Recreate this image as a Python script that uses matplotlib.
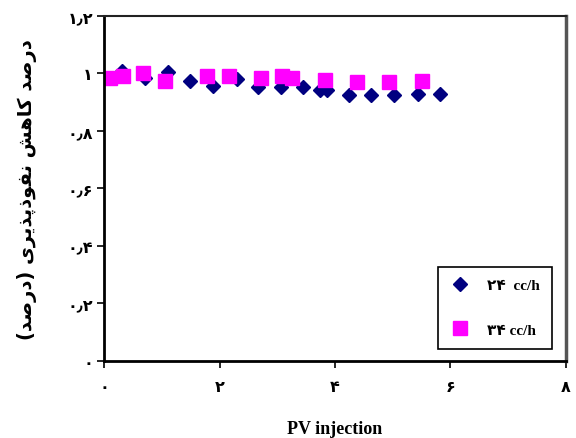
import matplotlib
matplotlib.use("Agg")
import matplotlib.pyplot as plt

# datos
pv_24 = [0.31, 0.71, 1.10, 1.49, 1.89, 2.30, 2.67, 3.06, 3.45, 3.74, 3.86, 4.24, 4.63, 5.02, 5.43, 5.81]
red_24 = [1.008, 0.986, 1.006, 0.973, 0.955, 0.980, 0.952, 0.954, 0.954, 0.941, 0.941, 0.925, 0.925, 0.925, 0.929, 0.927]
pv_34 = [0.10, 0.32, 0.67, 1.06, 1.79, 2.17, 2.72, 3.09, 3.26, 3.83, 4.38, 4.94, 5.50]
red_34 = [0.983, 0.990, 1.000, 0.975, 0.990, 0.990, 0.983, 0.990, 0.986, 0.978, 0.969, 0.969, 0.973]

xticks = [0, 2, 4, 6, 8]
xtick_labels = ["۰", "۲", "۴", "۶", "۸"]
yticks = [0, 0.2, 0.4, 0.6, 0.8, 1.0, 1.2]
ytick_labels = ["۰", "۰٫۲", "۰٫۴", "۰٫۶", "۰٫۸", "۱", "۱٫۲"]
label_24 = "۲۴  cc/h"
label_34 = "۳۴ cc/h"
ylabel_fa = "درصد کاهش نفوذپذیری (درصد)"

# formas de presentacion (aislada, final, inicial, media)
formas = {
    "د": ("\uFEA9", "\uFEAA", None, None),
    "ذ": ("\uFEAB", "\uFEAC", None, None),
    "ر": ("\uFEAD", "\uFEAE", None, None),
    "ا": ("\uFE8D", "\uFE8E", None, None),
    "و": ("\uFEED", "\uFEEE", None, None),
    "ص": ("\uFEB9", "\uFEBA", "\uFEBB", "\uFEBC"),
    "ش": ("\uFEB5", "\uFEB6", "\uFEB7", "\uFEB8"),
    "ه": ("\uFEE9", "\uFEEA", "\uFEEB", "\uFEEC"),
    "ن": ("\uFEE5", "\uFEE6", "\uFEE7", "\uFEE8"),
    "ف": ("\uFED1", "\uFED2", "\uFED3", "\uFED4"),
    "ک": ("\uFB8E", "\uFB8F", "\uFB90", "\uFB91"),
    "پ": ("\uFB56", "\uFB57", "\uFB58", "\uFB59"),
    "ی": ("\uFBFC", "\uFBFD", "\uFBFE", "\uFBFF"),
}


def dual(c):
    return c in formas and formas[c][2] is not None


def farsi(texto):
    res = []
    for i, c in enumerate(texto):
        if c not in formas:
            res.append({"(": ")", ")": "("}.get(c, c))
            continue
        prev = texto[i - 1] if i > 0 else ""
        nxt = texto[i + 1] if i + 1 < len(texto) else ""
        une_antes = dual(prev)
        une_despues = dual(c) and nxt in formas
        iso, fin, ini, med = formas[c]
        if une_antes and une_despues:
            res.append(med)
        elif une_antes:
            res.append(fin)
        elif une_despues:
            res.append(ini)
        else:
            res.append(iso)
    return "".join(reversed(res))


fig = plt.figure(figsize=(5.76, 4.39), dpi=100)
ax = fig.add_axes([0.1806, 0.1754, 0.8020, 0.7859])

ax.plot(pv_24, red_24, linestyle="none", marker="D", markersize=7.5,
        color="#000080", label=label_24)
ax.plot(pv_34, red_34, linestyle="none", marker="s", markersize=10.5,
        color="#FF00FF", label=label_34)

ax.set_xlim(0, 8)
ax.set_ylim(0, 1.2)
ax.set_xticks(xticks)
ax.set_xticklabels(xtick_labels)
ax.set_yticks(yticks)
ax.set_yticklabels(ytick_labels)
for t in ax.get_xticklabels() + ax.get_yticklabels():
    t.set_fontfamily("DejaVu Sans")
    t.set_fontweight("bold")
    t.set_fontsize(11.5)
ax.tick_params(axis="both", direction="out", length=5, width=1.2)
ax.tick_params(axis="x", pad=8)
ax.tick_params(axis="y", pad=3)

ax.spines["left"].set_linewidth(2)
ax.spines["bottom"].set_linewidth(2)
ax.spines["top"].set_linewidth(1.5)
ax.spines["right"].set_linewidth(2.5)
ax.spines["right"].set_color("#555555")
ax.spines["top"].set_color("#222222")

ax.set_xlabel("PV injection", fontfamily="Liberation Serif", fontweight="bold",
              fontsize=13, labelpad=19)
ax.set_ylabel(farsi(ylabel_fa), fontfamily="DejaVu Sans", fontweight="bold",
              fontsize=14, labelpad=22)

leg = ax.legend(loc="lower right", bbox_to_anchor=(0.97, 0.035), frameon=True,
                fancybox=False, edgecolor="black", framealpha=1,
                labelspacing=2.0, borderpad=0.8, handlelength=1.2,
                handletextpad=1.2, borderaxespad=0,
                prop={"family": ["Liberation Serif", "DejaVu Sans"],
                      "weight": "bold", "size": 11})
leg.get_frame().set_linewidth(1.2)

plt.savefig("out.png", dpi=100)
